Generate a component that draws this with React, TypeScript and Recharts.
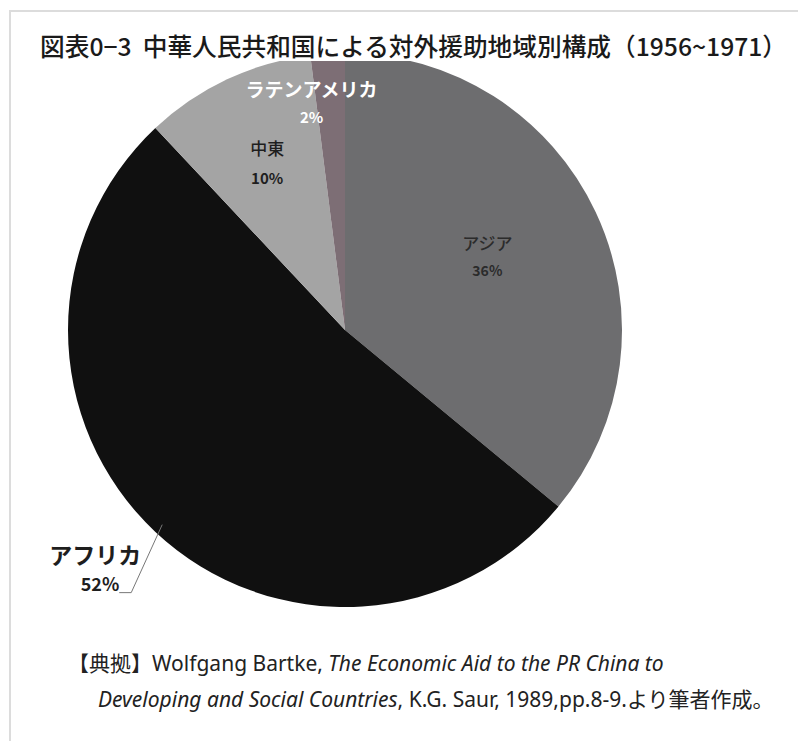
import React from 'react';
import { PieChart, Pie, Cell } from 'recharts';

const regions = ['アジア', 'アフリカ', '中東', 'ラテンアメリカ'];
const shares = [36, 52, 10, 2];
const sliceColors = ['#6d6d6f', '#101010', '#a4a4a4', '#7d6e75'];

const data = regions.map((name, i) => ({ name, value: shares[i] }));

const RAD = Math.PI / 180;

// per-slice label look (positions are derived from the slice's midAngle)
const labelStyle: Record<string, any> = {
    'アジア': { r: 0.6, dx: -8, dy: -3, size: 17, pct: 14, color: '#2b2b2b', weight: 500, gap: 27 },
    '中東': { r: 0.66, dx: 0, dy: -2, size: 17, pct: 15, color: '#1e1e1e', weight: 500, gap: 30 },
    'ラテンアメリカ': { r: 0.83, dx: -19, dy: 2, size: 19, pct: 15, color: '#ffffff', weight: 700, gap: 28 },
};

const renderLabel = (props: any) => {
    const { cx, cy, midAngle, outerRadius, name, value } = props;
    const cos = Math.cos(-midAngle * RAD);
    const sin = Math.sin(-midAngle * RAD);

    if (name === 'アフリカ') {
        // outside label with a bent leader line
        const sx = cx + (outerRadius - 10) * cos;
        const sy = cy + (outerRadius - 10) * sin;
        const mx = sx - 31;
        const my = sy + 68;
        return (
            <g>
                <polyline
                    points={`${sx},${sy} ${mx},${my} ${mx - 12},${my}`}
                    fill="none"
                    stroke="#777"
                    strokeWidth={1}
                />
                <text x={mx - 36} y={my - 39} fill="#1e1e1e" fontSize={23} fontWeight={700}
                    textAnchor="middle" dominantBaseline="central"
                    fontFamily="'Noto Sans CJK JP', sans-serif">
                    {name}
                </text>
                <text x={mx - 12} y={my - 10} fill="#1e1e1e" fontSize={18} fontWeight={700}
                    textAnchor="end" dominantBaseline="central"
                    fontFamily="'Noto Sans CJK JP', sans-serif">
                    {`${value}%`}
                </text>
            </g>
        );
    }

    const s = labelStyle[name];
    const x = cx + outerRadius * s.r * cos + s.dx;
    const y = cy + outerRadius * s.r * sin + s.dy;
    return (
        <g fontFamily="'Noto Sans CJK JP', sans-serif" fill={s.color} fontWeight={s.weight}>
            <text x={x} y={y - s.gap / 2} fontSize={s.size} textAnchor="middle" dominantBaseline="central">
                {name}
            </text>
            <text x={x} y={y + s.gap / 2} fontSize={s.pct} fontWeight={700} textAnchor="middle" dominantBaseline="central">
                {`${value}%`}
            </text>
        </g>
    );
};

export default function App() {
    return (
        <div style={{ position: 'relative', width: 790, height: 733, background: '#fff' }}>
            <div style={{
                position: 'absolute', left: 1, top: 2, right: 0, bottom: 0,
                borderLeft: '2px solid #dcdcdc', borderTop: '2px solid #dcdcdc'
            }} />
            <div style={{ position: 'absolute', left: 0, top: 0 }}>
                <PieChart width={790} height={733} margin={{ top: 0, right: 0, bottom: 0, left: 0 }}>
                    <Pie
                        data={data}
                        dataKey="value"
                        nameKey="name"
                        cx={337}
                        cy={322}
                        outerRadius={277}
                        startAngle={90}
                        endAngle={-270}
                        stroke="none"
                        labelLine={false}
                        label={renderLabel}
                        isAnimationActive={false}
                    >
                        {data.map((entry, index) => (
                            <Cell key={`cell-${index}`} fill={sliceColors[index]} />
                        ))}
                    </Pie>
                </PieChart>
            </div>
            <div style={{
                position: 'absolute', left: 28, top: 14, width: 756, height: 39,
                background: '#fff', fontFamily: "'Noto Sans CJK JP', sans-serif",
                fontSize: 24.7, fontWeight: 500, color: '#1a1a1a', lineHeight: '46px',
                whiteSpace: 'nowrap', paddingLeft: 4
            }}>
                図表0−3&nbsp;&nbsp;中華人民共和国による対外援助地域別構成（1956~1971）
            </div>
            <div style={{
                position: 'absolute', left: 60, top: 637, fontFamily: "'Liberation Sans Narrow', 'Noto Sans', sans-serif",
                fontSize: 21, color: '#222', lineHeight: '35px', whiteSpace: 'nowrap'
            }}>
                <div>
                    <span style={{ fontFamily: "'Noto Sans CJK JP', sans-serif" }}>【典拠】</span>
                    Wolfgang Bartke, <i>The Economic Aid to the PR China to</i>
                </div>
                <div style={{ paddingLeft: 30 }}>
                    <i>Developing and Social Countries</i>, K.G. Saur, 1989,pp.8-9.
                    <span style={{ fontFamily: "'Noto Sans CJK JP', sans-serif" }}>より筆者作成。</span>
                </div>
            </div>
        </div>
    );
}
